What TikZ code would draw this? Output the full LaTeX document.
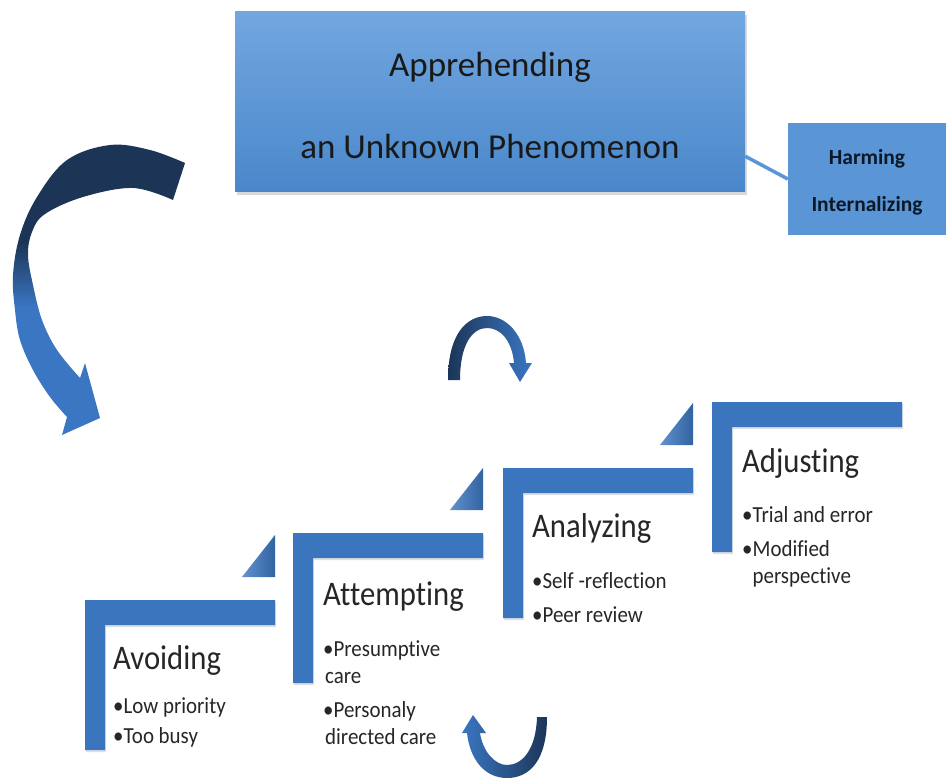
\documentclass[tikz,border=0pt]{standalone}
\usepackage{fontspec}
\setmainfont{Carlito}[Ligatures=NoCommon]
\newfontfamily\titlefont[FakeStretch=0.89, Ligatures=NoCommon]{Carlito}
\newfontfamily\listfont[FakeStretch=0.91, Ligatures=NoCommon]{Carlito}
\usetikzlibrary{shadows}
\definecolor{arnavy}{HTML}{1C3557}
\definecolor{arblue}{HTML}{3A76C2}
\definecolor{boxtop}{HTML}{72A7E0}
\definecolor{boxbottom}{HTML}{4A87CA}
\definecolor{harmfill}{HTML}{5A95D6}
\definecolor{barblue}{HTML}{3B75BE}
\definecolor{textdark}{HTML}{262626}
\pgfdeclareverticalshading{twist}{100bp}{color(0bp)=(arblue); color(47bp)=(arblue); color(58bp)=(arnavy); color(100bp)=(arnavy)}
\tikzset{
  mainbox/.style={top color=boxtop, bottom color=boxbottom, minimum width=510pt, minimum height=180pt, align=center, inner sep=0pt,
    text=black!90, font=\fontsize{35}{82}\selectfont, drop shadow={shadow xshift=2pt, shadow yshift=-3pt, opacity=.3}},
  harmbox/.style={fill=harmfill, minimum width=158pt, minimum height=112pt, align=center, inner sep=0pt,
    text=arnavy!45!black, font=\bfseries\fontsize{21.5}{47}\selectfont},
  stepbar/.style={fill=barblue, drop shadow={shadow xshift=1pt, shadow yshift=-2pt, opacity=.25}},
  steptri/.style={left color=arblue!80!white, right color=barblue!85!black},
  steptitle/.style={anchor=base west, inner sep=0pt, text=textdark, font=\titlefont\fontsize{34.5}{34.5}\selectfont},
  steplist/.style={anchor=base west, inner sep=0pt, text=textdark, align=left, font=\listfont\fontsize{23}{27}\selectfont}
}
\begin{document}
\begin{tikzpicture}[x=1pt,y=-1pt]
  \useasboundingbox (0,0) rectangle (946,778);
  % top box and side box
  \node[mainbox] (main) at (490,102) {\rule{0pt}{32pt}Apprehending\\an Unknown Phenomenon};
  \node[harmbox] (harm) at (867,179) {\rule{0pt}{22pt}Harming\\Internalizing};
  \draw[harmfill, line width=3.5pt] (main.-12) -- (harm.west);
  % big twisted arrow
  \shade[shading=twist] plot[smooth, tension=.6] coordinates {(185,163) (150,150) (110,145) (67,160) (37,197) (20,235) (13,275) (15,310) (20,340) (33,370) (50,397) (67,417)}
    -- (62,435) -- (100,418) -- (85,363)
    -- plot[smooth, tension=.6] coordinates {(80,378) (57,350) (42,320) (33,285) (28,255) (32,232) (45,214) (83,197) (133,188) (173,200)} -- cycle;
  % small turning arrows
  \shade[left color=arnavy, right color=arblue] (448,380) .. controls (448,332) and (468,316) .. (487,316) .. controls (506,316) and (524,334) .. (526,363)
    -- (532,363) -- (520,382) -- (509,363) -- (514,363) .. controls (512,340) and (500,328) .. (487,328) .. controls (472,328) and (460,345) .. (460,380) -- cycle;
  \shade[left color=arblue, right color=arnavy] (547,717) .. controls (547,760) and (530,778) .. (507,778) .. controls (485,778) and (470,760) .. (467,733)
    -- (462,733) -- (473,715) -- (486,733) -- (480,733) .. controls (483,752) and (495,765) .. (507,765) .. controls (522,765) and (536,750) .. (537,717) -- cycle;
  % steps
  \foreach \x/\y in {85/600, 293/533, 503/468, 712/402}
    \fill[stepbar] (\x,\y) -- ++(190,0) -- ++(0,25) -- ++(-170,0) -- ++(0,125) -- ++(-20,0) -- cycle;
  \foreach \x/\y in {85/600, 293/533, 503/468}
    \shade[steptri] (\x+190,\y-23) -- ++(-33,0) -- ++(33,-42) -- cycle;
  \node[steptitle] (avoid) at (113,669) {Avoiding};
  \node[steplist] (avoidlist) at (113,743) {\textbullet Low priority\\[3pt]\textbullet Too busy};
  \node[steptitle] (attempt) at (323,605) {Attempting};
  \node[steplist] (attemptlist) at (323,744) {\textbullet Presumptive\\\hspace{2pt}care\\[7pt]\textbullet Personaly\\\hspace{2pt}directed care};
  \node[steptitle] (analyze) at (532,537) {Analyzing};
  \node[steplist] (analyzelist) at (532,622) {\textbullet Self -reflection\\[7pt]\textbullet Peer review};
  \node[steptitle] (adjust) at (742,472) {Adjusting};
  \node[steplist] (adjustlist) at (742,583) {\textbullet Trial and error\\[7pt]\textbullet Modified\\\phantom{\textbullet}perspective};
\end{tikzpicture}
\end{document}
